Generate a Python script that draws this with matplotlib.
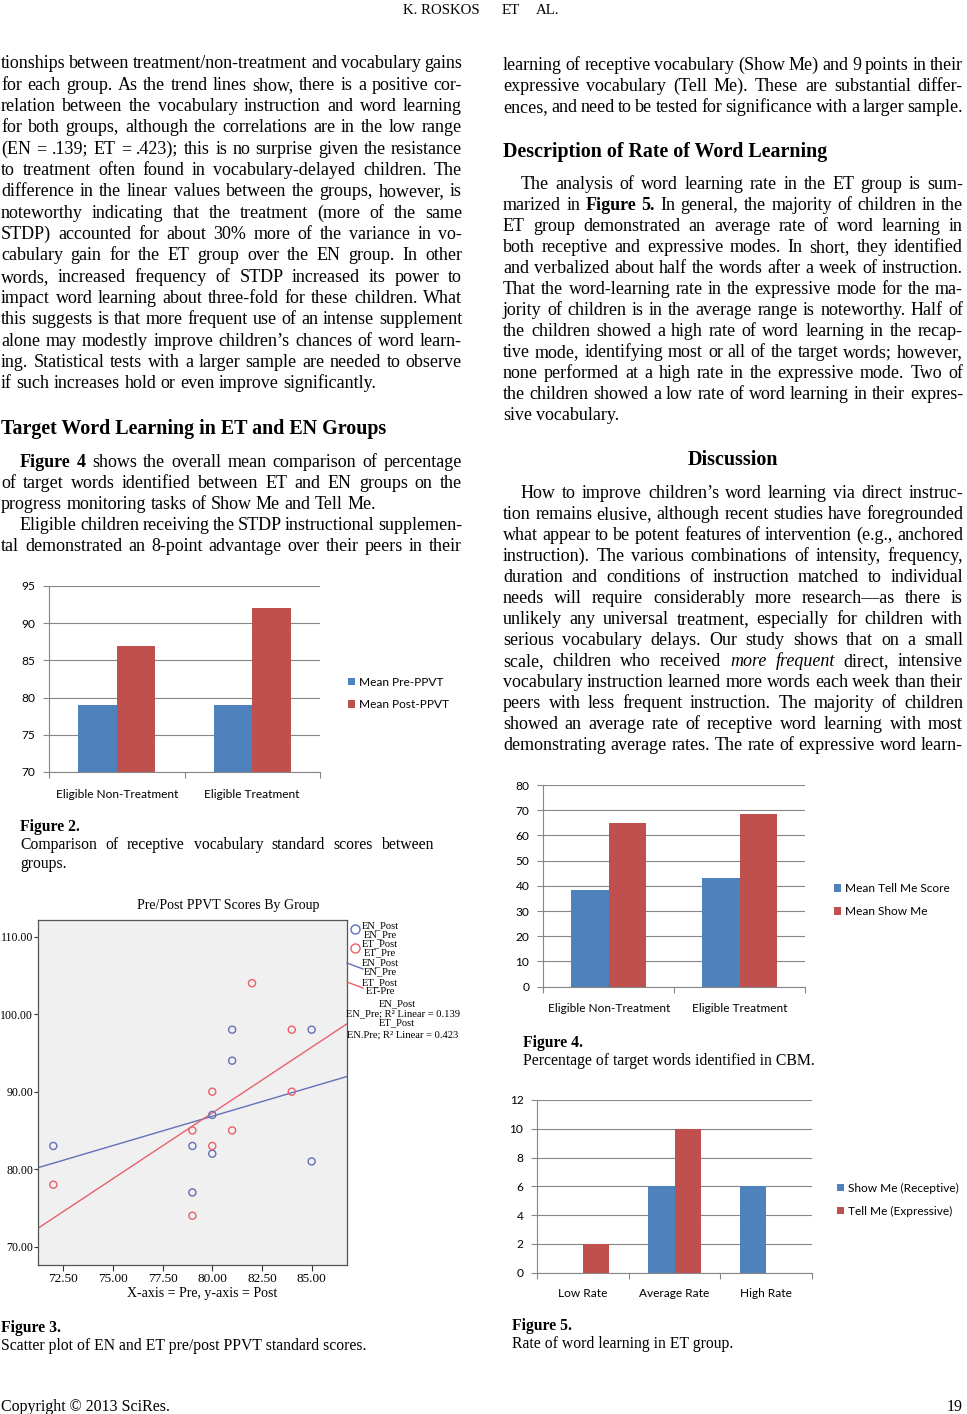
import numpy as np
import matplotlib
matplotlib.use('Agg')
import matplotlib.pyplot as plt

W, H = 967, 1414
SERIF = 'Liberation Serif'
SANS = 'Lato'
BLUE = '#4F81BD'
RED = '#C0504D'
GRID = '#868686'
EN_C = '#6470b8'
ET_C = '#e6616b'

# ---- chart data ----
groups = ['Eligible Non-Treatment', 'Eligible Treatment']
ppvt_pre = [79, 79]
ppvt_post = [87, 92]

# scatter (figure 3)
en_pre = [72, 79, 79, 80, 80, 81, 81, 85, 85]
en_post = [83, 83, 77, 87, 82, 98, 94, 98, 81]
et_pre = [72, 79, 79, 80, 80, 81, 82, 84, 84]
et_post = [78, 85, 74, 90, 83, 85, 104, 98, 90]
scatter_xticks = [72.5, 75, 77.5, 80, 82.5, 85]
scatter_yticks = [70, 80, 90, 100, 110]

# figure 4
tell_me_score = [38.3, 43.2]
show_me_score = [65, 68.4]

# figure 5
rate_cats = ['Low Rate', 'Average Rate', 'High Rate']
show_me_rate = [0, 6, 6]
tell_me_rate = [2, 10, 0]

# ---- page text ----
left_par1 = [
    "tionships between treatment/non-treatment and vocabulary gains",
    "for each group. As the trend lines show, there is a positive cor-",
    "relation between the vocabulary instruction and word learning",
    "for both groups, although the correlations are in the low range",
    "(EN = .139; ET = .423); this is no surprise given the resistance",
    "to treatment often found in vocabulary-delayed children. The",
    "difference in the linear values between the groups, however, is",
    "noteworthy indicating that the treatment (more of the same",
    "STDP) accounted for about 30% more of the variance in vo-",
    "cabulary gain for the ET group over the EN group. In other",
    "words, increased frequency of STDP increased its power to",
    "impact word learning about three-fold for these children. What",
    "this suggests is that more frequent use of an intense supplement",
    "alone may modestly improve children\u2019s chances of word learn-",
    "ing. Statistical tests with a larger sample are needed to observe",
    "if such increases hold or even improve significantly.",
]
left_par2 = [
    "*Figure *4 shows the overall mean comparison of percentage",
    "of target words identified between ET and EN groups on the",
    "progress monitoring tasks of Show Me and Tell Me.",
]
left_par3 = [
    "Eligible children receiving the STDP instructional supplemen-",
    "tal demonstrated an 8-point advantage over their peers in their",
]
right_par1 = [
    "learning of receptive vocabulary (Show Me) and 9 points in their",
    "expressive vocabulary (Tell Me). These are substantial differ-",
    "ences, and need to be tested for significance with a larger sample.",
]
right_par2 = [
    "The analysis of word learning rate in the ET group is sum-",
    "marized in *Figure *5. In general, the majority of children in the",
    "ET group demonstrated an average rate of word learning in",
    "both receptive and expressive modes. In short, they identified",
    "and verbalized about half the words after a week of instruction.",
    "That the word-learning rate in the expressive mode for the ma-",
    "jority of children is in the average range is noteworthy. Half of",
    "the children showed a high rate of word learning in the recap-",
    "tive mode, identifying most or all of the target words; however,",
    "none performed at a high rate in the expressive mode. Two of",
    "the children showed a low rate of word learning in their expres-",
    "sive vocabulary.",
]
right_par3 = [
    "How to improve children\u2019s word learning via direct instruc-",
    "tion remains elusive, although recent studies have foregrounded",
    "what appear to be potent features of intervention (e.g., anchored",
    "instruction). The various combinations of intensity, frequency,",
    "duration and conditions of instruction matched to individual",
    "needs will require considerably more research\u2014as there is",
    "unlikely any universal treatment, especially for children with",
    "serious vocabulary delays. Our study shows that on a small",
    "scale, children who received ~more ~frequent direct, intensive",
    "vocabulary instruction learned more words each week than their",
    "peers with less frequent instruction. The majority of children",
    "showed an average rate of receptive word learning with most",
    "demonstrating average rates. The rate of expressive word learn-",
]

BODY = 12.95
HEAD = 14.4
CAP = 11.3
TICK = 8.6

fig = plt.figure(figsize=(W / 100, H / 100), dpi=100)
renderer = fig.canvas.get_renderer()

# overlay axes in page pixels, for all the running text
page = fig.add_axes([0, 0, 1, 1], zorder=5)
page.set_xlim(0, W)
page.set_ylim(H, 0)
page.axis('off')
page.patch.set_alpha(0)


def put(x, y, s, size=BODY, **kw):
    kw.setdefault('family', SERIF)
    return page.text(x, y, s, fontsize=size, **kw)


def para(lines, x0, x1, y0, step, indent=0, ends=True, size=BODY):
    # justified lines, word by word (*bold, ~italic)
    space = 0.25 * size * 100 / 72
    for i, line in enumerate(lines):
        words = []
        for w in line.split(' '):
            weight, style = 'normal', 'normal'
            if w.startswith('*'):
                weight, w = 'bold', w[1:]
            elif w.startswith('~'):
                style, w = 'italic', w[1:]
            t = put(0, 0, w, size=size, weight=weight, style=style, va='baseline')
            words.append((t, t.get_window_extent(renderer).width))
        start = x0 + (indent if i == 0 else 0)
        total = sum(wd for _, wd in words)
        last = ends and i == len(lines) - 1
        gap = space if (last or len(words) < 2) else (x1 - start - total) / (len(words) - 1)
        x = start
        for t, wd in words:
            t.set_position((x, y0 + i * step + 5))
            x += wd + gap


# header
put(403, 14, "K. ROSKOS", size=10.7, va='baseline')
put(502, 14, "ET", size=10.7, va='baseline')
put(536, 14, "AL.", size=10.7, va='baseline')

# left column
para(left_par1, 1, 462, 63.5, 21.33)
put(1, 434, "Target Word Learning in ET and EN Groups", size=HEAD, weight='bold', va='baseline')
para(left_par2, 1, 462, 462, 21.2, indent=19)
para(left_par3, 1, 462, 525, 21.2, indent=19, ends=False)

# right column
para(right_par1, 503, 963, 65, 20.9, ends=False)
put(503, 157, "Description of Rate of Word Learning", size=HEAD, weight='bold', va='baseline')
para(right_par2, 503, 963, 184.3, 20.97, indent=18)
put(733, 465, "Discussion", size=HEAD, weight='bold', ha='center', va='baseline')
para(right_par3, 503, 963, 492.7, 21.03, indent=18, ends=False)

# captions
put(20, 831, "Figure 2.", size=CAP, weight='bold', va='baseline')
para(["Comparison of receptive vocabulary standard scores between", "groups."],
     20, 434, 844, 19, size=CAP)
put(1, 1332, "Figure 3.", size=CAP, weight='bold', va='baseline')
put(1, 1350, "Scatter plot of EN and ET pre/post PPVT standard scores.", size=CAP, va='baseline')
put(523, 1047, "Figure 4.", size=CAP, weight='bold', va='baseline')
put(523, 1065, "Percentage of target words identified in CBM.", size=CAP, va='baseline')
put(512, 1330, "Figure 5.", size=CAP, weight='bold', va='baseline')
put(512, 1348, "Rate of word learning in ET group.", size=CAP, va='baseline')

# footer
put(1, 1411, "Copyright \u00a9 2013 SciRes.", size=11.5, va='baseline')
put(963, 1411, "19", size=11.5, ha='right', va='baseline')

BW = 0.285


def bar_chart(box, cats, s1, s2, labels, ylim, ystep, leg_x, leg_y, pad=12):
    l, r, t, b = box
    ax = fig.add_axes([l / W, 1 - b / H, (r - l) / W, (b - t) / H])
    x = np.arange(len(cats))
    ax.bar(x - BW / 2, s1, BW, color=BLUE, label=labels[0], zorder=2)
    ax.bar(x + BW / 2, s2, BW, color=RED, label=labels[1], zorder=2)
    ax.set_xlim(-0.5, len(cats) - 0.5)
    ax.set_ylim(*ylim)
    ax.set_yticks(np.arange(ylim[0], ylim[1] + 0.01, ystep))
    ax.set_xticks(x)
    ax.set_xticklabels(cats)
    ax.set_xticks(np.arange(-0.5, len(cats)), minor=True)
    ax.tick_params(axis='x', which='major', length=0, pad=pad)
    ax.tick_params(axis='x', which='minor', length=4, color=GRID, width=0.8)
    ax.tick_params(axis='y', length=4, color=GRID, width=0.8, pad=6)
    ax.yaxis.grid(True, color=GRID, lw=0.8)
    ax.set_axisbelow(True)
    for side in ['top', 'right']:
        ax.spines[side].set_visible(False)
    for side in ['left', 'bottom']:
        ax.spines[side].set_color(GRID)
        ax.spines[side].set_linewidth(0.8)
    for lab in ax.get_xticklabels() + ax.get_yticklabels():
        lab.set_family(SANS)
        lab.set_fontsize(TICK)
    ax.legend(loc='center left', bbox_to_anchor=(leg_x / W, 1 - leg_y / H),
              bbox_transform=fig.transFigure, frameon=False, borderpad=0,
              handlelength=0.6, handleheight=0.6, handletextpad=0.35,
              labelspacing=1.0, prop={'family': SANS, 'size': TICK})
    return ax


bar_chart((49, 320, 586, 772), groups, ppvt_pre, ppvt_post,
          ['Mean Pre-PPVT', 'Mean Post-PPVT'], (70, 95), 5, 342, 693.5)
bar_chart((543.3, 805, 785, 986.7), groups, tell_me_score, show_me_score,
          ['Mean Tell Me Score', 'Mean Show Me'], (0, 80), 10, 828, 900)
bar_chart((537.3, 811.7, 1100, 1272.7), rate_cats, show_me_rate, tell_me_rate,
          ['Show Me (Receptive)', 'Tell Me (Expressive)'], (0, 12), 2, 831, 1199.7, pad=11)

# scatter plot
ax = fig.add_axes([38 / W, 1 - 1265 / H, (347 - 38) / W, (1265 - 920) / H])
ax.set_facecolor('#f0f0f0')
ax.set_xlim(71.23, 86.78)
ax.set_ylim(67.64, 112.15)
ax.scatter(en_pre, en_post, s=26, facecolors='none', edgecolors=EN_C, linewidths=1, zorder=3)
ax.scatter(et_pre, et_post, s=26, facecolors='none', edgecolors=ET_C, linewidths=1, zorder=3)
xs = np.array(ax.get_xlim())
for px, py, c in [(en_pre, en_post, EN_C), (et_pre, et_post, ET_C)]:
    k, b0 = np.polyfit(px, py, 1)
    ax.plot(xs, k * xs + b0, color=c, lw=1, zorder=2)
ax.set_xlim(xs)
ax.set_xticks(scatter_xticks)
ax.set_yticks(scatter_yticks)
ax.set_xticklabels(['%.2f' % v for v in scatter_xticks])
ax.set_yticklabels(['%.2f' % v for v in scatter_yticks])
ax.tick_params(axis='x', length=4, width=0.8, color='#333333', pad=2, labelsize=9.5)
ax.tick_params(axis='y', length=3, width=0.8, color='#333333', pad=0.5, labelsize=8.6)
for lab in ax.get_xticklabels() + ax.get_yticklabels():
    lab.set_family(SERIF)
for sp in ax.spines.values():
    sp.set_color('#555555')
    sp.set_linewidth(0.9)

put(228, 906, "Pre/Post PPVT Scores By Group", size=10, ha='center', va='center')
put(202, 1294, "X-axis = Pre, y-axis = Post", size=10, ha='center', va='center')

# scatter legend
page.plot([355], [929], 'o', mfc='none', mec=EN_C, ms=6.5, mew=1)
page.plot([355], [948], 'o', mfc='none', mec=ET_C, ms=6.5, mew=1)
page.plot([347, 363], [963, 969], color=EN_C, lw=1)
page.plot([347, 363], [982, 988], color=ET_C, lw=1)
leg_rows = [
    (380, 926, "EN_Post"), (380, 934.5, "EN_Pre"),
    (380, 944, "ET_Post"), (380, 953, "ET_Pre"),
    (380, 963, "EN_Post"), (380, 972, "EN_Pre"),
    (380, 983, "ET_Post"), (380, 992, "ET-Pre"),
    (397, 1004, "EN_Post"), (403, 1013.7, "EN_Pre; R\u00b2 Linear = 0.139"),
    (397, 1023, "ET_Post"), (403, 1035, "EN.Pre; R\u00b2 Linear = 0.423"),
]
for lx, ly, s in leg_rows:
    put(lx, ly, s, size=7.6, ha='center', va='center')

fig.savefig('out.png', dpi=100)
